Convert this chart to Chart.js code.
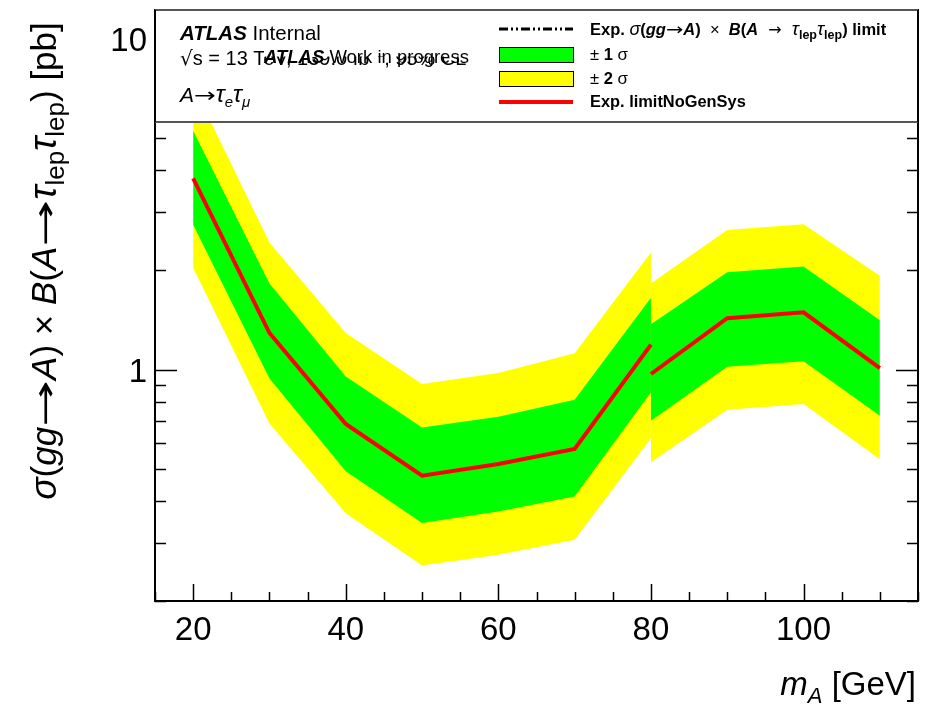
<!DOCTYPE html>
<html>
<head>
<meta charset="utf-8">
<script src="https://cdn.jsdelivr.net/npm/chart.js@4.4.1/dist/chart.umd.min.js"></script>
<style>
  body { margin: 0; background: #fff; }
  canvas { display: block; }
</style>
</head>
<body>
<canvas id="limitChart" width="938" height="707"></canvas>
<script>
// two mass scans, they meet at 80 GeV
const massLow = [20, 30, 40, 50, 60, 70, 80];
const massHigh = [80, 90, 100, 110];

// expected limit (NoGenSys) and the +-1 / +-2 sigma bands, in pb
const limitLow = [3.78, 1.29, 0.685, 0.478, 0.519, 0.576, 1.19];
const sig1DownLow = [2.74, 0.94, 0.493, 0.344, 0.373, 0.414, 0.854];
const sig1UpLow = [5.27, 1.82, 0.953, 0.669, 0.721, 0.811, 1.65];
const sig2DownLow = [2.03, 0.687, 0.368, 0.256, 0.276, 0.306, 0.62];
const sig2UpLow = [7.2, 2.42, 1.29, 0.905, 0.977, 1.12, 2.26];

const limitHigh = [0.97, 1.43, 1.49, 1.01];
const sig1DownHigh = [0.701, 1.02, 1.06, 0.726];
const sig1UpHigh = [1.37, 1.97, 2.05, 1.41];
const sig2DownHigh = [0.525, 0.756, 0.787, 0.536];
const sig2UpHigh = [1.82, 2.64, 2.75, 1.92];

const xTickLabels = [20, 40, 60, 80, 100];
const yTickLabels = [1, 10];

const FONT = '"Liberation Sans", Arial, Helvetica, sans-serif';
const ARROW = '"DejaVu Sans", sans-serif';

function pts(xs, ys) { return xs.map((x, i) => ({x: x, y: ys[i]})); }

function band(xs, ys, color, fill) {
  return {data: pts(xs, ys), borderWidth: 0, pointRadius: 0, backgroundColor: color,
          borderColor: color, fill: fill ? '+1' : false, tension: 0};
}
function line(xs, ys) {
  return {data: pts(xs, ys), borderWidth: 4, pointRadius: 0, borderColor: '#ff0000',
          fill: false, tension: 0, borderJoinStyle: 'miter'};
}

function fontOf(s) {
  const st = s[2] || '';
  const fam = st.includes('a') ? ARROW : FONT;
  return (st.includes('i') ? 'italic ' : '') + (st.includes('b') ? 'bold ' : '') + s[1] + 'px ' + fam;
}
// segs: [text, size, style, dy, stretchX]  style: i italic, b bold, a arrow font
function richText(ctx, segs, x, y, align) {
  let w = 0;
  segs.forEach(s => { ctx.font = fontOf(s); w += ctx.measureText(s[0]).width * (s[4] || 1); });
  let cx = align === 'right' ? x - w : align === 'center' ? x - w / 2 : x;
  ctx.textAlign = 'left';
  ctx.textBaseline = 'alphabetic';
  segs.forEach(s => {
    ctx.font = fontOf(s);
    const k = s[4] || 1;
    ctx.save();
    ctx.translate(cx, y + (s[3] || 0));
    ctx.scale(k, 1);
    ctx.fillText(s[0], 0, 0);
    ctx.restore();
    cx += ctx.measureText(s[0]).width * k;
  });
}

const decorations = {
  id: 'decorations',
  afterDatasetsDraw(chart) {
    const ctx = chart.ctx;
    const xs = chart.scales.x, ys = chart.scales.y;
    const a = chart.chartArea;
    ctx.save();
    ctx.strokeStyle = '#000';
    ctx.fillStyle = '#000';

    // ticks, drawn inward
    ctx.lineWidth = 1.5;
    ctx.beginPath();
    for (let v = 15; v <= 115; v += 5) {
      const px = Math.round(xs.getPixelForValue(v)) + 0.5;
      const len = v % 20 === 0 ? 17 : 9;
      ctx.moveTo(px, a.bottom); ctx.lineTo(px, a.bottom - len);
    }
    for (let d = 0.1; d < 20; d *= 10) {
      for (let k = 1; k <= 9; k++) {
        const v = k * d;
        if (v < 0.2 || v > 12) continue;
        const py = Math.round(ys.getPixelForValue(v)) + 0.5;
        const len = k === 1 ? 22 : 11;
        ctx.moveTo(a.left, py); ctx.lineTo(a.left + len, py);
        ctx.moveTo(a.right, py); ctx.lineTo(a.right - len, py);
      }
    }
    ctx.stroke();

    // frame
    ctx.lineWidth = 2;
    ctx.strokeRect(a.left, a.top, a.right - a.left, a.bottom - a.top);

    // legend box over the top of the frame
    const boxBottom = 122;
    ctx.fillStyle = '#fff';
    ctx.fillRect(a.left, a.top, a.right - a.left, boxBottom - a.top);
    ctx.strokeStyle = '#555';
    ctx.beginPath();
    ctx.moveTo(a.left, a.top); ctx.lineTo(a.right, a.top);
    ctx.moveTo(a.left, boxBottom); ctx.lineTo(a.right, boxBottom);
    ctx.stroke();
    ctx.strokeStyle = '#000';
    ctx.beginPath();
    ctx.moveTo(a.left, a.top); ctx.lineTo(a.left, boxBottom);
    ctx.moveTo(a.right, a.top); ctx.lineTo(a.right, boxBottom);
    ctx.stroke();

    // left text block
    ctx.fillStyle = '#000';
    richText(ctx, [['ATLAS', 20.5, 'bi'], [' Internal', 20.5]], 180, 40);
    richText(ctx, [['\u221A', 20, 'a'], ['s = 13 TeV, 139.0 fb', 20], ['\u22121', 13, '', -8], [', 95% CL', 20]], 180, 65);
    ctx.fillStyle = '#fff';
    ctx.fillRect(264, 41, 220, 15.5);
    ctx.fillStyle = '#000';
    richText(ctx, [['ATLAS', 18.5, 'bi'], [' Work in progress', 18.5]], 264, 63);
    richText(ctx, [['A', 21, 'i'], ['\u2192', 20, 'a', 0, 1.3], ['\u03C4', 24, 'i'], ['e', 15, 'i', 5],
                   ['\u03C4', 24, 'i'], ['\u03BC', 15, 'i', 5]], 180, 102);

    // right legend
    const sx0 = 499, sx1 = 573, tx = 590;
    ctx.lineWidth = 3;
    ctx.setLineDash([9, 3, 2, 3, 2, 3]);
    ctx.beginPath(); ctx.moveTo(sx0, 29); ctx.lineTo(sx1, 29); ctx.stroke();
    ctx.setLineDash([]);
    ctx.lineWidth = 1;
    ctx.fillStyle = '#00ff00';
    ctx.fillRect(sx0, 47, sx1 - sx0, 15); ctx.strokeRect(sx0 + 0.5, 47.5, sx1 - sx0, 15);
    ctx.fillStyle = '#ffff00';
    ctx.fillRect(sx0, 71, sx1 - sx0, 15); ctx.strokeRect(sx0 + 0.5, 71.5, sx1 - sx0, 15);
    ctx.strokeStyle = '#ff0000';
    ctx.lineWidth = 4;
    ctx.beginPath(); ctx.moveTo(sx0, 102); ctx.lineTo(sx1, 102); ctx.stroke();

    ctx.fillStyle = '#000';
    richText(ctx, [['Exp. ', 16.5, 'b'], ['\u03C3', 18, 'i'], ['(', 16.5, 'b'], ['gg', 16.5, 'bi'],
                   ['\u2192', 16, 'a', 0, 1.3], ['A', 16.5, 'bi'], [')', 16.5, 'b'], ['  \u00D7  ', 16.5],
                   ['B', 16.5, 'bi'], ['(', 16.5, 'b'], ['A', 16.5, 'bi'], ['  \u2192  ', 16, 'a'],
                   ['\u03C4', 19, 'i'], ['lep', 12.5, 'b', 4], ['\u03C4', 19, 'i'], ['lep', 12.5, 'b', 4],
                   [') limit', 16.5, 'b']], tx, 35);
    richText(ctx, [['\u00B1 ', 16.5], ['1', 16.5, 'b'], [' \u03C3', 17]], tx, 60);
    richText(ctx, [['\u00B1 ', 16.5], ['2', 16.5, 'b'], [' \u03C3', 17]], tx, 84);
    richText(ctx, [['Exp. limitNoGenSys', 16.4, 'b']], tx, 107);

    // tick labels
    xTickLabels.forEach(v => {
      richText(ctx, [[String(v), 33]], xs.getPixelForValue(v), 640, 'center');
    });
    yTickLabels.forEach(v => {
      richText(ctx, [[String(v), 33]], 147, ys.getPixelForValue(v) + 12, 'right');
    });

    // axis titles
    richText(ctx, [['m', 33, 'i'], ['A', 22, 'i', 8], [' [GeV]', 33]], 916, 695, 'right');
    ctx.translate(56, 261);
    ctx.rotate(-Math.PI / 2);
    richText(ctx, [['\u03C3', 37, 'i'], ['(', 35], ['gg', 35, 'i'], ['\u2192', 32, 'a', 0, 1.75], ['A', 35, 'i'],
                   [') \u00D7 ', 35], ['B', 35, 'i'], ['(', 35], ['A', 35, 'i'], ['\u2192', 32, 'a', 0, 1.75],
                   ['\u03C4', 38, 'i'], ['lep', 26, '', 8], ['\u03C4', 38, 'i'], ['lep', 26, '', 8],
                   [') [pb]', 35]], 0, 0, 'center');
    ctx.restore();
  }
};

new Chart(document.getElementById('limitChart').getContext('2d'), {
  type: 'line',
  data: {
    datasets: [
      line(massLow, limitLow),
      line(massHigh, limitHigh),
      band(massLow, sig1UpLow, '#00ff00', true),
      band(massLow, sig1DownLow, '#00ff00', false),
      band(massHigh, sig1UpHigh, '#00ff00', true),
      band(massHigh, sig1DownHigh, '#00ff00', false),
      band(massLow, sig2UpLow, '#ffff00', true),
      band(massLow, sig2DownLow, '#ffff00', false),
      band(massHigh, sig2UpHigh, '#ffff00', true),
      band(massHigh, sig2DownHigh, '#ffff00', false)
    ]
  },
  options: {
    responsive: false,
    animation: false,
    layout: {padding: {left: 155, right: 20, top: 10, bottom: 106}},
    scales: {
      x: {type: 'linear', min: 15, max: 115, display: false},
      y: {type: 'logarithmic', min: 0.2, max: 12.2, display: false}
    },
    plugins: {legend: {display: false}, tooltip: {enabled: false}}
  },
  plugins: [decorations]
});
</script>
</body>
</html>
